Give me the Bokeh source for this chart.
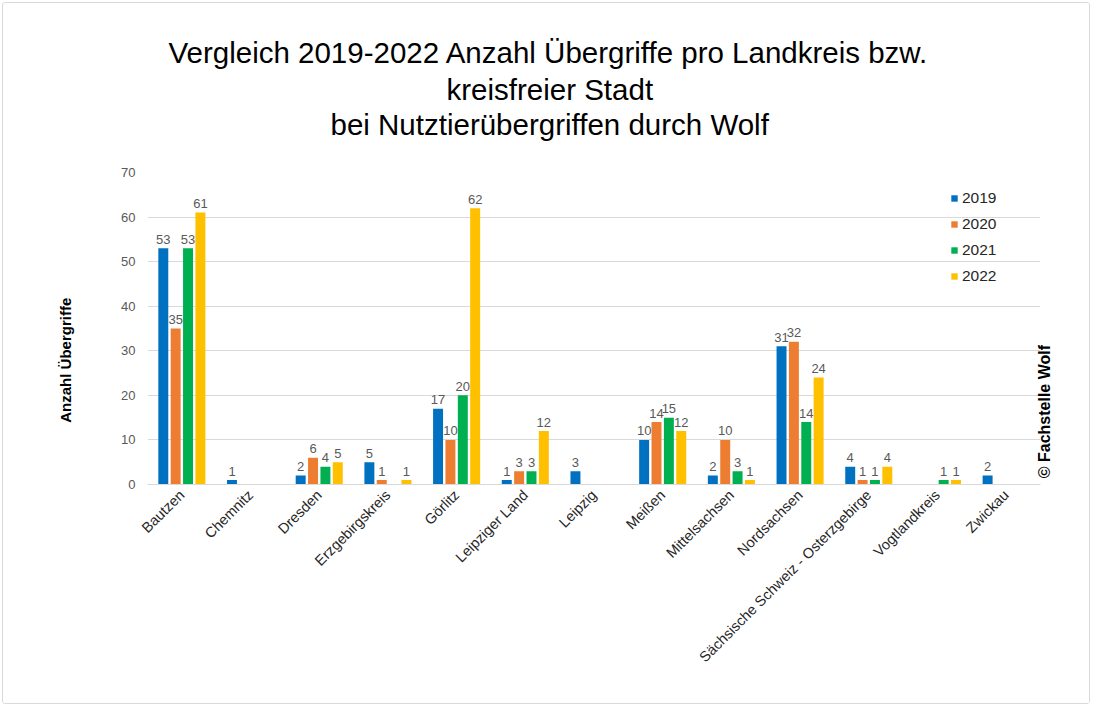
from math import pi
from bokeh.plotting import figure
from bokeh.models import (ColumnDataSource, Legend, LegendItem, FixedTicker,
                          LinearAxis, Title, Range1d)
from bokeh.transform import dodge
from bokeh.core.properties import value
from bokeh.embed import file_html
from bokeh.resources import INLINE

districts = ["Bautzen", "Chemnitz", "Dresden", "Erzgebirgskreis", "Görlitz",
             "Leipziger Land", "Leipzig", "Meißen", "Mittelsachsen", "Nordsachsen",
             "Sächsische Schweiz - Osterzgebirge", "Vogtlandkreis", "Zwickau"]
years = ["2019", "2020", "2021", "2022"]
y2019 = [53, 1, 2, 5, 17, 1, 3, 10, 2, 31, 4, 0, 2]
y2020 = [35, 0, 6, 1, 10, 3, 0, 14, 10, 32, 1, 0, 0]
y2021 = [53, 0, 4, 0, 20, 3, 0, 15, 3, 14, 1, 1, 0]
y2022 = [61, 0, 5, 1, 62, 12, 0, 12, 1, 24, 4, 1, 0]
y_ticks = [0, 10, 20, 30, 40, 50, 60, 70]
title_lines = ["Vergleich 2019-2022 Anzahl Übergriffe pro Landkreis bzw.",
               "kreisfreier Stadt", "bei Nutztierübergriffen durch Wolf"]
y_label = "Anzahl Übergriffe"
credit = "© Fachstelle Wolf"

series = [y2019, y2020, y2021, y2022]
colors = ["#0070C0", "#ED7D31", "#00B050", "#FFC000"]
offsets = [-0.27, -0.09, 0.09, 0.27]
FONT = "Liberation Sans"

p = figure(x_range=districts, y_range=(0, 70), width=1088, height=702,
           output_backend="svg", toolbar_location=None,
           min_border_left=144, min_border_right=51,
           min_border_top=169, min_border_bottom=221)
p.styles = {"margin": "2px", "border": "1px solid #d9d9d9", "border-radius": "3px"}
p.outline_line_color = None
p.background_fill_color = "white"
p.border_fill_color = "white"
p.title.visible = False
# fine-grained helper range used only to place the two rotated side texts
p.extra_y_ranges = {"pos": Range1d(0, 700)}

items = []
for yr, vals, col, off in zip(years, series, colors, offsets):
    src = ColumnDataSource(dict(x=districts, v=vals,
                                lab=[str(v) if v else "" for v in vals]))
    r = p.vbar(x=dodge("x", off, range=p.x_range), top="v", width=0.145,
               source=src, fill_color=col, line_color=None)
    p.text(x=dodge("x", off, range=p.x_range), y="v", text="lab", source=src,
           text_align="center", text_baseline="alphabetic", y_offset=-9,
           text_font=value(FONT), text_font_size="13px", text_color="#595959")
    items.append(LegendItem(label=yr, renderers=[r]))

legend = Legend(items=items, location=(803, 198), padding=0, margin=0,
                glyph_width=8, glyph_height=8, label_standoff=4,
                label_height=20, spacing=6,
                label_text_font=FONT, label_text_font_size="15.5px",
                label_text_color="#262626",
                background_fill_alpha=0, border_line_color=None)
p.add_layout(legend)

p.xgrid.grid_line_color = None
p.ygrid.grid_line_color = "#D9D9D9"
p.yaxis.ticker = FixedTicker(ticks=y_ticks)
p.yaxis.axis_line_color = None
p.yaxis.major_tick_line_color = None
p.yaxis.minor_tick_line_color = None
p.yaxis.major_tick_out = 0
p.yaxis.major_label_standoff = 12
p.yaxis.major_label_text_font = FONT
p.yaxis.major_label_text_font_size = "13px"
p.yaxis.major_label_text_color = "#595959"

# y-axis title, drawn as a single rotated tick label of an extra left axis
lab_axis = LinearAxis(y_range_name="pos", ticker=FixedTicker(ticks=[419]),
                      major_label_overrides={419: y_label},
                      major_label_orientation=pi / 2,
                      axis_line_color=None, major_tick_line_color=None,
                      minor_tick_line_color=None, major_tick_out=0,
                      major_label_standoff=53,
                      major_label_text_font=FONT,
                      major_label_text_font_size="15px",
                      major_label_text_font_style="bold",
                      major_label_text_color="#000000")
p.add_layout(lab_axis, "left")

# credit text on the right, drawn as a rotated tick label of a right axis
cr_axis = LinearAxis(y_range_name="pos", ticker=FixedTicker(ticks=[14]),
                     major_label_overrides={14: credit},
                     major_label_orientation=pi / 2,
                     axis_line_color=None, major_tick_line_color=None,
                     minor_tick_line_color=None, major_tick_out=0,
                     major_label_standoff=4,
                     major_label_text_font=FONT,
                     major_label_text_font_size="16px",
                     major_label_text_font_style="bold",
                     major_label_text_color="#000000")
p.add_layout(cr_axis, "right")

p.xaxis.axis_line_color = "#D9D9D9"
p.xaxis.major_tick_line_color = None
p.xaxis.major_tick_out = 0
p.xaxis.major_label_orientation = pi / 4
p.xaxis.major_label_standoff = 8
p.xaxis.major_label_text_font = FONT
p.xaxis.major_label_text_font_size = "14.5px"
p.xaxis.major_label_text_color = "#262626"

# spacer between the title block and the plot area
p.add_layout(Title(text="\u00a0", standoff=0, text_font=FONT,
                   text_font_size="27px"), "above")
# left-aligned title lines, offsets chosen so each line is centred on the page
for t, so, off in zip(reversed(title_lines), [0, 0, 4], [183, 299, 21]):
    p.add_layout(Title(text=t, align="left", standoff=so, offset=off,
                       text_font=FONT, text_font_size="29.5px",
                       text_font_style="normal", text_color="#000000"), "above")

open("out.html", "w").write(file_html(p, INLINE))
